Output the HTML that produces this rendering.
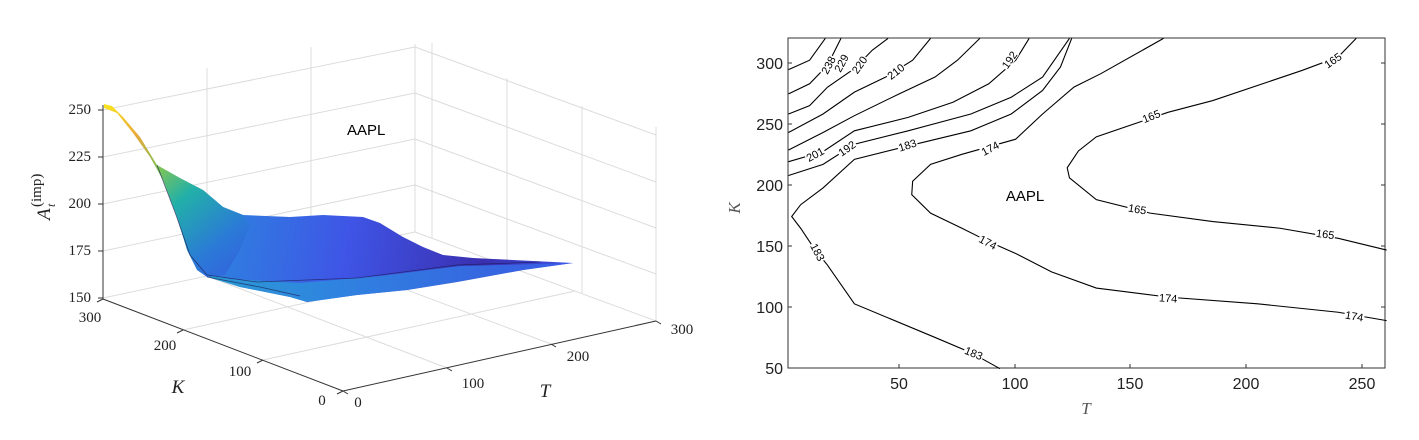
<!DOCTYPE html>
<html><head><meta charset="utf-8"><style>
html,body{margin:0;padding:0;background:#fff;}
svg{display:block;}
text{font-family:"Liberation Sans",sans-serif;}
.s text{font-family:"Liberation Serif",serif;fill:#222;}
text.s{font-family:"Liberation Serif",serif;}
</style></head><body>
<svg width="1419" height="440" viewBox="0 0 1419 440" xmlns="http://www.w3.org/2000/svg">
<defs>
<linearGradient id="slope" x1="105" y1="105" x2="260" y2="290" gradientUnits="userSpaceOnUse">
<stop offset="0" stop-color="#f9e51f"/>
<stop offset="0.18" stop-color="#e8a83a"/>
<stop offset="0.35" stop-color="#7cc45a"/>
<stop offset="0.5" stop-color="#22b0a8"/>
<stop offset="0.75" stop-color="#2b78d8"/>
<stop offset="1" stop-color="#3a55e0"/>
</linearGradient>
<linearGradient id="plat" x1="230" y1="210" x2="570" y2="265" gradientUnits="userSpaceOnUse">
<stop offset="0" stop-color="#2f7ee0"/>
<stop offset="0.35" stop-color="#3f55e6"/>
<stop offset="0.75" stop-color="#3a2fb0"/>
<stop offset="1" stop-color="#3c4fe0"/>
</linearGradient>
<linearGradient id="front" x1="200" y1="270" x2="570" y2="265" gradientUnits="userSpaceOnUse">
<stop offset="0" stop-color="#2a9fd0"/>
<stop offset="0.4" stop-color="#2e86e0"/>
<stop offset="1" stop-color="#3a5ee8"/>
</linearGradient>
</defs>

<!-- ===== LEFT 3D PLOT ===== -->
<g stroke="#dcdcdc" stroke-width="1" fill="none">
<line x1="103" y1="298" x2="415" y2="232"/>
<line x1="103" y1="251" x2="415" y2="185"/>
<line x1="103" y1="204" x2="415" y2="139"/>
<line x1="103" y1="157" x2="415" y2="93"/>
<line x1="103" y1="110" x2="415" y2="47"/>
<line x1="415" y1="232" x2="656" y2="321"/>
<line x1="415" y1="185" x2="656" y2="274"/>
<line x1="415" y1="139" x2="656" y2="228"/>
<line x1="415" y1="93" x2="656" y2="182"/>
<line x1="415" y1="47" x2="656" y2="135"/>
<line x1="415" y1="232" x2="415" y2="44"/>
<line x1="207" y1="276" x2="207" y2="68"/>
<line x1="311" y1="254" x2="311" y2="47"/>
<line x1="432" y1="238" x2="432" y2="43"/>
<line x1="507" y1="266" x2="507" y2="78"/>
<line x1="582" y1="294" x2="582" y2="106"/>
<line x1="656" y1="321" x2="656" y2="127"/>
<line x1="183" y1="330" x2="495" y2="261"/>
<line x1="263" y1="360" x2="575" y2="291"/>
<line x1="447" y1="368" x2="207" y2="276"/>
<line x1="551" y1="344" x2="311" y2="254"/>
</g>
<g stroke="#333" stroke-width="1" fill="none">
<line x1="103" y1="105" x2="103" y2="299"/>
<line x1="103" y1="299" x2="343" y2="391"/>
<line x1="343" y1="391" x2="656" y2="321"/>
<line x1="98" y1="110" x2="103" y2="110"/><line x1="98" y1="157" x2="103" y2="157"/>
<line x1="98" y1="204" x2="103" y2="204"/><line x1="98" y1="251" x2="103" y2="251"/>
<line x1="98" y1="298" x2="103" y2="298"/>
<line x1="103" y1="299" x2="97" y2="302"/>
<line x1="183" y1="330" x2="177" y2="333"/>
<line x1="263" y1="360" x2="257" y2="363"/>
<line x1="343" y1="391" x2="337" y2="394"/>
<line x1="343" y1="391" x2="348" y2="394"/>
<line x1="447" y1="368" x2="452" y2="371"/>
<line x1="551" y1="344" x2="556" y2="347"/>
<line x1="656" y1="321" x2="661" y2="324"/>
</g>
<g class="s" font-size="15">
<text x="91" y="114" text-anchor="end">250</text>
<text x="91" y="161" text-anchor="end">225</text>
<text x="91" y="208" text-anchor="end">200</text>
<text x="91" y="255" text-anchor="end">175</text>
<text x="91" y="302" text-anchor="end">150</text>
<text x="90" y="322" text-anchor="middle">300</text>
<text x="165" y="350" text-anchor="middle">200</text>
<text x="240" y="376" text-anchor="middle">100</text>
<text x="322" y="405" text-anchor="middle">0</text>
<text x="358" y="407" text-anchor="middle">0</text>
<text x="473" y="388" text-anchor="middle">100</text>
<text x="578" y="361" text-anchor="middle">200</text>
<text x="682" y="334" text-anchor="middle">300</text>
<text x="178" y="393" font-size="19" font-style="italic" text-anchor="middle">K</text>
<text x="545" y="397" font-size="19" font-style="italic" text-anchor="middle">T</text>
<g transform="translate(50,200) rotate(-90)">
<text x="-20" y="0" font-size="19" font-style="italic">A</text>
<text x="-7" y="5" font-size="12" font-style="italic">t</text>
<text x="-7" y="-9" font-size="15">(imp)</text>
</g>
</g>
<polygon fill="url(#plat)" points="203,190 223,207 243,215 290,217 323,215 363,217 380,223 403,237 423,247 443,255 473,258 573,263 523,270 457,282 407,290 357,295 307,302 290,297 240,287 210,277"/>
<polygon fill="url(#front)" opacity="0.9" points="207,275 230,279 300,283 380,276 460,266 573,263 523,270 457,282 407,290 357,295 307,302 290,297 240,287 207,277"/>
<polygon fill="url(#slope)" points="104,104 112,106 123,117 140,137 157,165 180,178 203,190 223,207 243,215 250,225 240,250 225,275 207,277 197,270 187,250 177,217 163,180 150,157 133,133 117,113 104,108"/>
<g stroke="#1a1a50" stroke-width="0.8" fill="none" opacity="0.7">
<polyline points="157,165 176,215 190,255 207,275 257,282 357,278 457,265 540,262"/>
<polyline points="207,277 260,287 300,296"/>
</g>
<text x="347" y="135" font-size="15">AAPL</text>

<!-- ===== RIGHT CONTOUR PLOT ===== -->
<rect x="788" y="38" width="597" height="330" fill="none" stroke="#333" stroke-width="1"/>
<g stroke="#333" stroke-width="1">
<line x1="899" y1="368" x2="899" y2="364"/><line x1="1015" y1="368" x2="1015" y2="364"/>
<line x1="1130" y1="368" x2="1130" y2="364"/><line x1="1246" y1="368" x2="1246" y2="364"/>
<line x1="1362" y1="368" x2="1362" y2="364"/>
<line x1="788" y1="307" x2="792" y2="307"/><line x1="788" y1="246" x2="792" y2="246"/>
<line x1="788" y1="185" x2="792" y2="185"/><line x1="788" y1="124" x2="792" y2="124"/>
<line x1="788" y1="63" x2="792" y2="63"/>
<line x1="1385" y1="307" x2="1381" y2="307"/><line x1="1385" y1="246" x2="1381" y2="246"/>
<line x1="1385" y1="185" x2="1381" y2="185"/><line x1="1385" y1="124" x2="1381" y2="124"/>
<line x1="1385" y1="63" x2="1381" y2="63"/>
</g>
<g font-size="16" fill="#222">
<text x="899" y="389" text-anchor="middle">50</text>
<text x="1015" y="389" text-anchor="middle">100</text>
<text x="1130" y="389" text-anchor="middle">150</text>
<text x="1246" y="389" text-anchor="middle">200</text>
<text x="1362" y="389" text-anchor="middle">250</text>
<text x="783" y="374" text-anchor="end">50</text>
<text x="783" y="313" text-anchor="end">100</text>
<text x="783" y="252" text-anchor="end">150</text>
<text x="783" y="191" text-anchor="end">200</text>
<text x="783" y="130" text-anchor="end">250</text>
<text x="783" y="69" text-anchor="end">300</text>
</g>
<text class="s" x="1086" y="414" font-size="17" font-style="italic" fill="#555" text-anchor="middle">T</text>
<text class="s" x="0" y="0" font-size="17" font-style="italic" fill="#555" transform="translate(740,208) rotate(-90)" text-anchor="middle">K</text>

<g transform="translate(720,30) scale(0.448,0.336)" fill="none" stroke="#000" stroke-width="1.1">
<polyline vector-effect="non-scaling-stroke" points="153,118 200,90 235,25"/>
<polyline vector-effect="non-scaling-stroke" points="153,190 200,160 240,105 270,25"/>
<polyline vector-effect="non-scaling-stroke" points="153,250 200,225 240,170 300,115 340,60 375,25"/>
<polyline vector-effect="non-scaling-stroke" points="153,305 230,250 300,185 370,140 430,90 470,25"/>
<polyline vector-effect="non-scaling-stroke" points="153,357 230,305 300,255 400,190 480,140 530,90 580,25"/>
<polyline vector-effect="non-scaling-stroke" points="153,392 230,362 300,300 420,260 520,215 600,160 660,90 690,25"/>
<polyline vector-effect="non-scaling-stroke" points="153,433 230,400 300,340 420,300 560,250 650,200 720,140 780,25"/>
<polyline vector-effect="non-scaling-stroke" points="785,25 760,110 720,180 650,250 560,300 420,345 300,385 230,470 180,520 160,555 180,590 210,650 240,700 300,815 480,915 560,960 625,1008"/>
<polyline vector-effect="non-scaling-stroke" points="990,25 850,130 790,170 720,250 660,325 540,370 470,400 430,450 428,490 470,545 540,590 600,630 660,665 740,720 840,768 1000,795 1200,815 1380,840 1488,865"/>
<polyline vector-effect="non-scaling-stroke" points="1420,25 1380,80 1300,120 1100,210 1000,245 840,318 800,360 775,410 780,440 840,505 960,545 1100,570 1250,590 1380,620 1488,655"/>
</g>
<g font-size="11" fill="#000" text-anchor="middle">
<g transform="translate(830,66) rotate(-62)"><rect x="-10" y="-8" width="20" height="11" fill="#fff"/><text y="2">238</text></g>
<g transform="translate(843,64) rotate(-62)"><rect x="-10" y="-8" width="20" height="11" fill="#fff"/><text y="2">229</text></g>
<g transform="translate(861,66) rotate(-55)"><rect x="-10" y="-8" width="20" height="11" fill="#fff"/><text y="2">220</text></g>
<g transform="translate(897,73) rotate(-38)"><rect x="-10" y="-8" width="20" height="11" fill="#fff"/><text y="2">210</text></g>
<g transform="translate(816,156) rotate(-28)"><rect x="-10" y="-8" width="20" height="11" fill="#fff"/><text y="2">201</text></g>
<g transform="translate(848,150) rotate(-35)"><rect x="-10" y="-8" width="20" height="11" fill="#fff"/><text y="2">192</text></g>
<g transform="translate(908,147) rotate(-18)"><rect x="-10" y="-8" width="20" height="11" fill="#fff"/><text y="2">183</text></g>
<g transform="translate(1011,61) rotate(-55)"><rect x="-10" y="-8" width="20" height="11" fill="#fff"/><text y="2">192</text></g>
<g transform="translate(991,150) rotate(-28)"><rect x="-10" y="-8" width="20" height="11" fill="#fff"/><text y="2">174</text></g>
<g transform="translate(816,253) rotate(62)"><rect x="-10" y="-8" width="20" height="11" fill="#fff"/><text y="2">183</text></g>
<g transform="translate(987,244) rotate(28)"><rect x="-10" y="-8" width="20" height="11" fill="#fff"/><text y="2">174</text></g>
<g transform="translate(973,355) rotate(22)"><rect x="-10" y="-8" width="20" height="11" fill="#fff"/><text y="2">183</text></g>
<g transform="translate(1152,118) rotate(-22)"><rect x="-10" y="-8" width="20" height="11" fill="#fff"/><text y="2">165</text></g>
<g transform="translate(1137,211) rotate(10)"><rect x="-10" y="-8" width="20" height="11" fill="#fff"/><text y="2">165</text></g>
<g transform="translate(1325,236) rotate(8)"><rect x="-10" y="-8" width="20" height="11" fill="#fff"/><text y="2">165</text></g>
<g transform="translate(1334,62) rotate(-35)"><rect x="-10" y="-8" width="20" height="11" fill="#fff"/><text y="2">165</text></g>
<g transform="translate(1168,300) rotate(4)"><rect x="-10" y="-8" width="20" height="11" fill="#fff"/><text y="2">174</text></g>
<g transform="translate(1354,318) rotate(10)"><rect x="-10" y="-8" width="20" height="11" fill="#fff"/><text y="2">174</text></g>
</g>
<text x="1025" y="201" font-size="15" text-anchor="middle">AAPL</text>
</svg>
</body></html>
